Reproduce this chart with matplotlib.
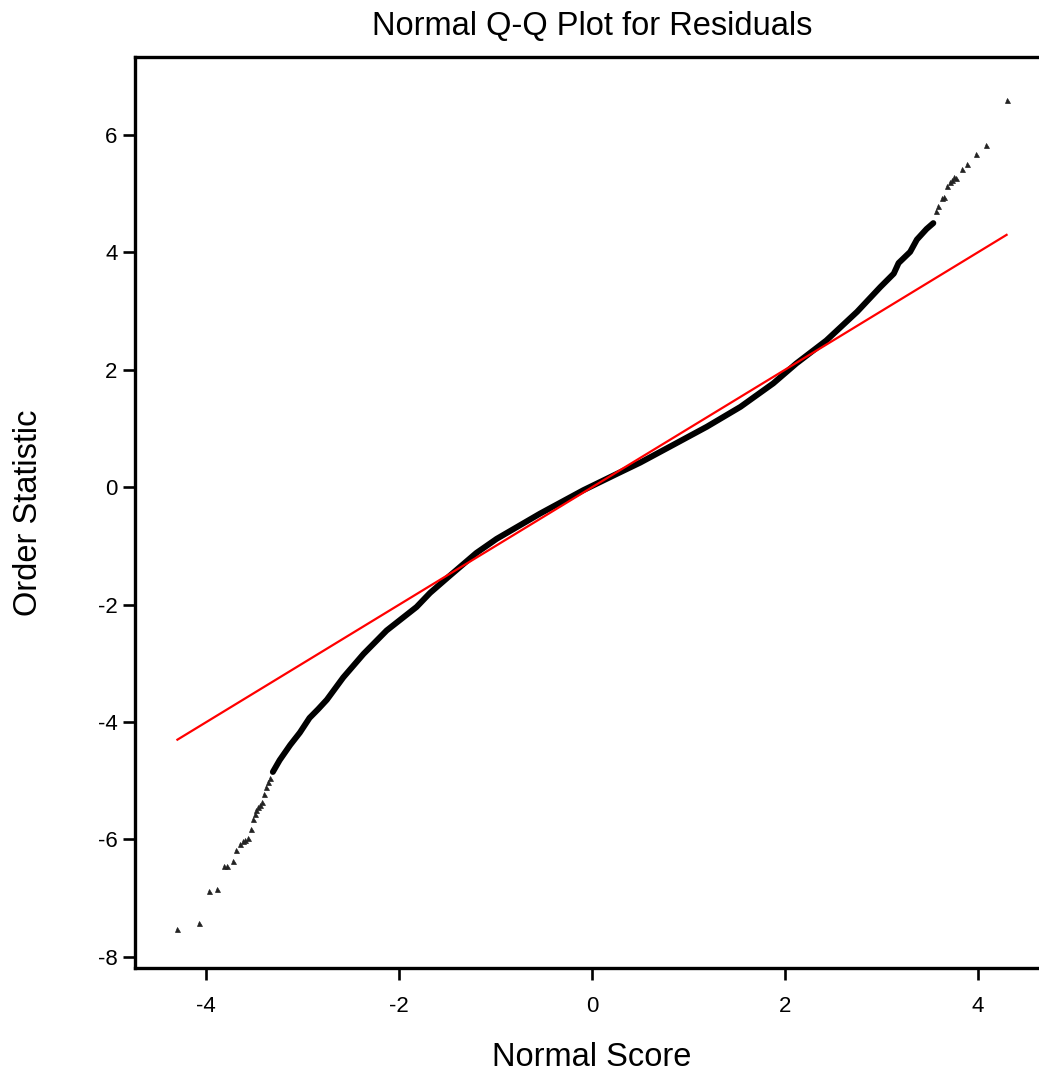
import matplotlib
matplotlib.use('Agg')
import matplotlib.pyplot as plt

plt.rcParams['font.family'] = ['Liberation Sans', 'DejaVu Sans']
plt.rcParams['axes.unicode_minus'] = False

# dense part of the Q-Q curve (normal score, order statistic)
body_x = [-3.31, -3.24, -3.13, -3.03, -2.93, -2.84, -2.75, -2.58, -2.37, -2.13,
          -1.82, -1.68, -1.47, -1.20, -0.99, -0.54, -0.09, 0.26, 0.50, 0.84,
          1.19, 1.54, 1.88, 2.12, 2.43, 2.75, 2.99, 3.13, 3.18, 3.30, 3.37,
          3.47, 3.54]
body_y = [-4.85, -4.65, -4.39, -4.18, -3.93, -3.78, -3.62, -3.24, -2.84, -2.44,
          -2.04, -1.80, -1.50, -1.12, -0.88, -0.45, -0.05, 0.23, 0.42, 0.72,
          1.03, 1.37, 1.77, 2.11, 2.50, 2.99, 3.41, 3.64, 3.82, 4.01, 4.22,
          4.40, 4.50]

# sparse points in the two tails
low_x = [-4.30, -4.08, -3.97, -3.89, -3.82, -3.79, -3.72, -3.69, -3.65, -3.62,
         -3.60, -3.57, -3.54, -3.52, -3.50, -3.48, -3.46, -3.44, -3.42, -3.40,
         -3.38, -3.36, -3.34]
low_y = [-7.53, -7.42, -6.88, -6.85, -6.45, -6.45, -6.37, -6.18, -6.07, -6.03,
         -6.01, -5.97, -5.83, -5.66, -5.56, -5.49, -5.45, -5.42, -5.36, -5.22,
         -5.11, -5.02, -4.95]
high_x = [3.57, 3.59, 3.63, 3.65, 3.68, 3.71, 3.73, 3.75, 3.78, 3.84, 3.89,
          3.98, 4.09, 4.30]
high_y = [4.71, 4.80, 4.92, 4.95, 5.13, 5.20, 5.24, 5.29, 5.27, 5.43, 5.50,
          5.67, 5.83, 6.60]

# reference line
ref_x = [-4.30, 4.30]
ref_y = [-4.30, 4.30]

W, H = 1039, 1075
fig = plt.figure(figsize=(W / 100, H / 100), dpi=100)
# axes box: left 135px, right 1049px (just past the image edge), top 57px, bottom 968px
ax = fig.add_axes([135 / W, 1 - 968 / H, (1049 - 135) / W, (968 - 57) / H])

ax.plot(body_x, body_y, color='black', lw=4.3, solid_joinstyle='round',
        solid_capstyle='round', zorder=2)
ax.plot(low_x + high_x, low_y + high_y, ls='none', marker='^', ms=3.6,
        color='#222222', mew=0.5, zorder=2)
ax.plot(ref_x, ref_y, color='#ff0000', lw=1.6, zorder=3)

ax.set_xlim(-4.74, 4.74)
ax.set_ylim(-8.19, 7.33)
ax.set_xticks([-4, -2, 0, 2, 4])
ax.set_yticks([-8, -6, -4, -2, 0, 2, 4, 6])

for side in ['left', 'bottom', 'top', 'right']:
    ax.spines[side].set_linewidth(2.4)
ax.tick_params(axis='both', direction='out', length=8.5, width=1.9,
               labelsize=16)
ax.tick_params(axis='x', pad=12)
ax.tick_params(axis='y', pad=4)

fig.text(592 / W, 1 - 35 / H, 'Normal Q-Q Plot for Residuals',
         ha='center', va='baseline', fontsize=23.5)
fig.text(592 / W, 1 - 1066 / H, 'Normal Score',
         ha='center', va='baseline', fontsize=23.5)
fig.text(29 / W, 1 - 513 / H, 'Order Statistic', rotation=90,
         ha='center', va='center', fontsize=23.5)

fig.savefig('out.png', dpi=100)
